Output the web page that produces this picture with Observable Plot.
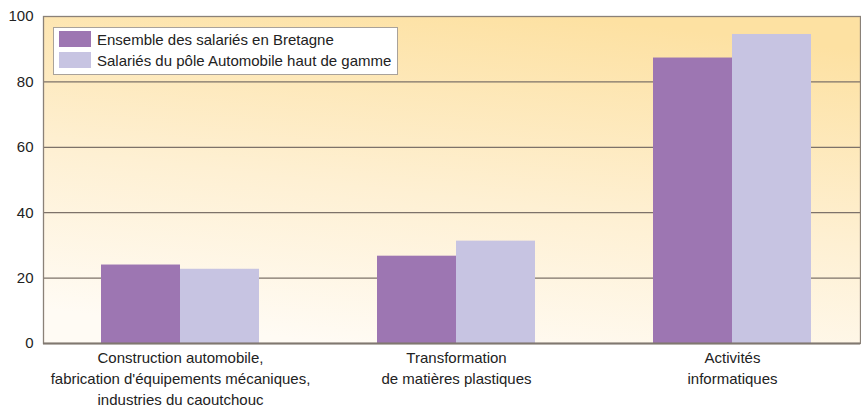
<!DOCTYPE html>
<html>
<head>
<meta charset="utf-8">
<script src="https://cdn.jsdelivr.net/npm/d3@7"></script>
<script src="https://cdn.jsdelivr.net/npm/@observablehq/plot@0.6"></script>
<style>
  body { margin: 0; background: #fff; font-family: "Liberation Sans", Arial, sans-serif; }
  #wrap { position: relative; width: 861px; height: 409px; }
  #legend { position: absolute; left: 53px; top: 27px; width: 345px; height: 48px; background: #fff;
            border: 1px solid #a9a29a; font-size: 15px; color: #222; box-sizing: border-box; }
  .row { position: absolute; left: 5px; height: 16px; display: flex; align-items: center; }
  .sw { width: 32px; height: 16px; margin-right: 6px; }
</style>
</head>
<body>
<div id="wrap"></div>
<script>
const categories = [
  "Construction automobile,\nfabrication d'équipements mécaniques,\nindustries du caoutchouc",
  "Transformation\nde matières plastiques",
  "Activités\ninformatiques"
];
const seriesNames = ["Ensemble des salariés en Bretagne", "Salariés du pôle Automobile haut de gamme"];
const bretagne = [24, 26.7, 87.3];
const pole = [22.7, 31.3, 94.5];
const yTicks = [0, 20, 40, 60, 80, 100];
const colors = ["#9d76b2", "#c7c4e2"];

const dataA = categories.map((c, i) => ({category: c, value: bretagne[i]}));
const dataB = categories.map((c, i) => ({category: c, value: pole[i]}));

const chart = Plot.plot({
  width: 861,
  height: 409,
  marginLeft: 43,
  marginRight: 1,
  marginTop: 16,
  marginBottom: 66,
  style: {fontFamily: "Liberation Sans, Arial, sans-serif", fontSize: "15px", color: "#222", background: "transparent"},
  x: {domain: categories, range: [42, 870], paddingInner: 0.4275, paddingOuter: 0.21375, label: null},
  y: {domain: [0, 100], label: null},
  marks: [
    Plot.frame({fill: "url(#bggrad)", stroke: "none"}),
    Plot.gridY(yTicks.slice(1, -1), {stroke: "#7d7269", strokeOpacity: 1, strokeWidth: 1.3}),
    Plot.barY(dataA, {x: "category", y: "value", fill: colors[0], insetRight: 79}),
    Plot.barY(dataB, {x: "category", y: "value", fill: colors[1], insetLeft: 79}),
    Plot.frame({stroke: "#8a8178", strokeWidth: 1.3}),
    Plot.ruleY([0], {stroke: "#807870", strokeWidth: 2}),
    Plot.axisY({ticks: yTicks, tickSize: 0, tickPadding: 10, fontSize: 15, label: null}),
    Plot.axisX({tickSize: 0, tickPadding: 5, fontSize: 15, lineHeight: 1.4, label: null})
  ]
});

// background gradient definition
const ns = "http://www.w3.org/2000/svg";
const defs = document.createElementNS(ns, "defs");
defs.innerHTML = `<linearGradient id="bggrad" x1="0.35" y1="1" x2="0.65" y2="0">
  <stop offset="0" stop-color="#fffbf4"/>
  <stop offset="0.45" stop-color="#fef0d3"/>
  <stop offset="1" stop-color="#fde1a2"/>
</linearGradient>`;
chart.insertBefore(defs, chart.firstChild);

const wrap = document.getElementById("wrap");
wrap.appendChild(chart);

const legend = document.createElement("div");
legend.id = "legend";
seriesNames.forEach((name, i) => {
  const row = document.createElement("div");
  row.className = "row";
  row.style.top = (3 + i * 21) + "px";
  const sw = document.createElement("div");
  sw.className = "sw";
  sw.style.background = colors[i];
  const t = document.createElement("span");
  t.textContent = name;
  row.appendChild(sw);
  row.appendChild(t);
  legend.appendChild(row);
});
wrap.appendChild(legend);
</script>
</body>
</html>
